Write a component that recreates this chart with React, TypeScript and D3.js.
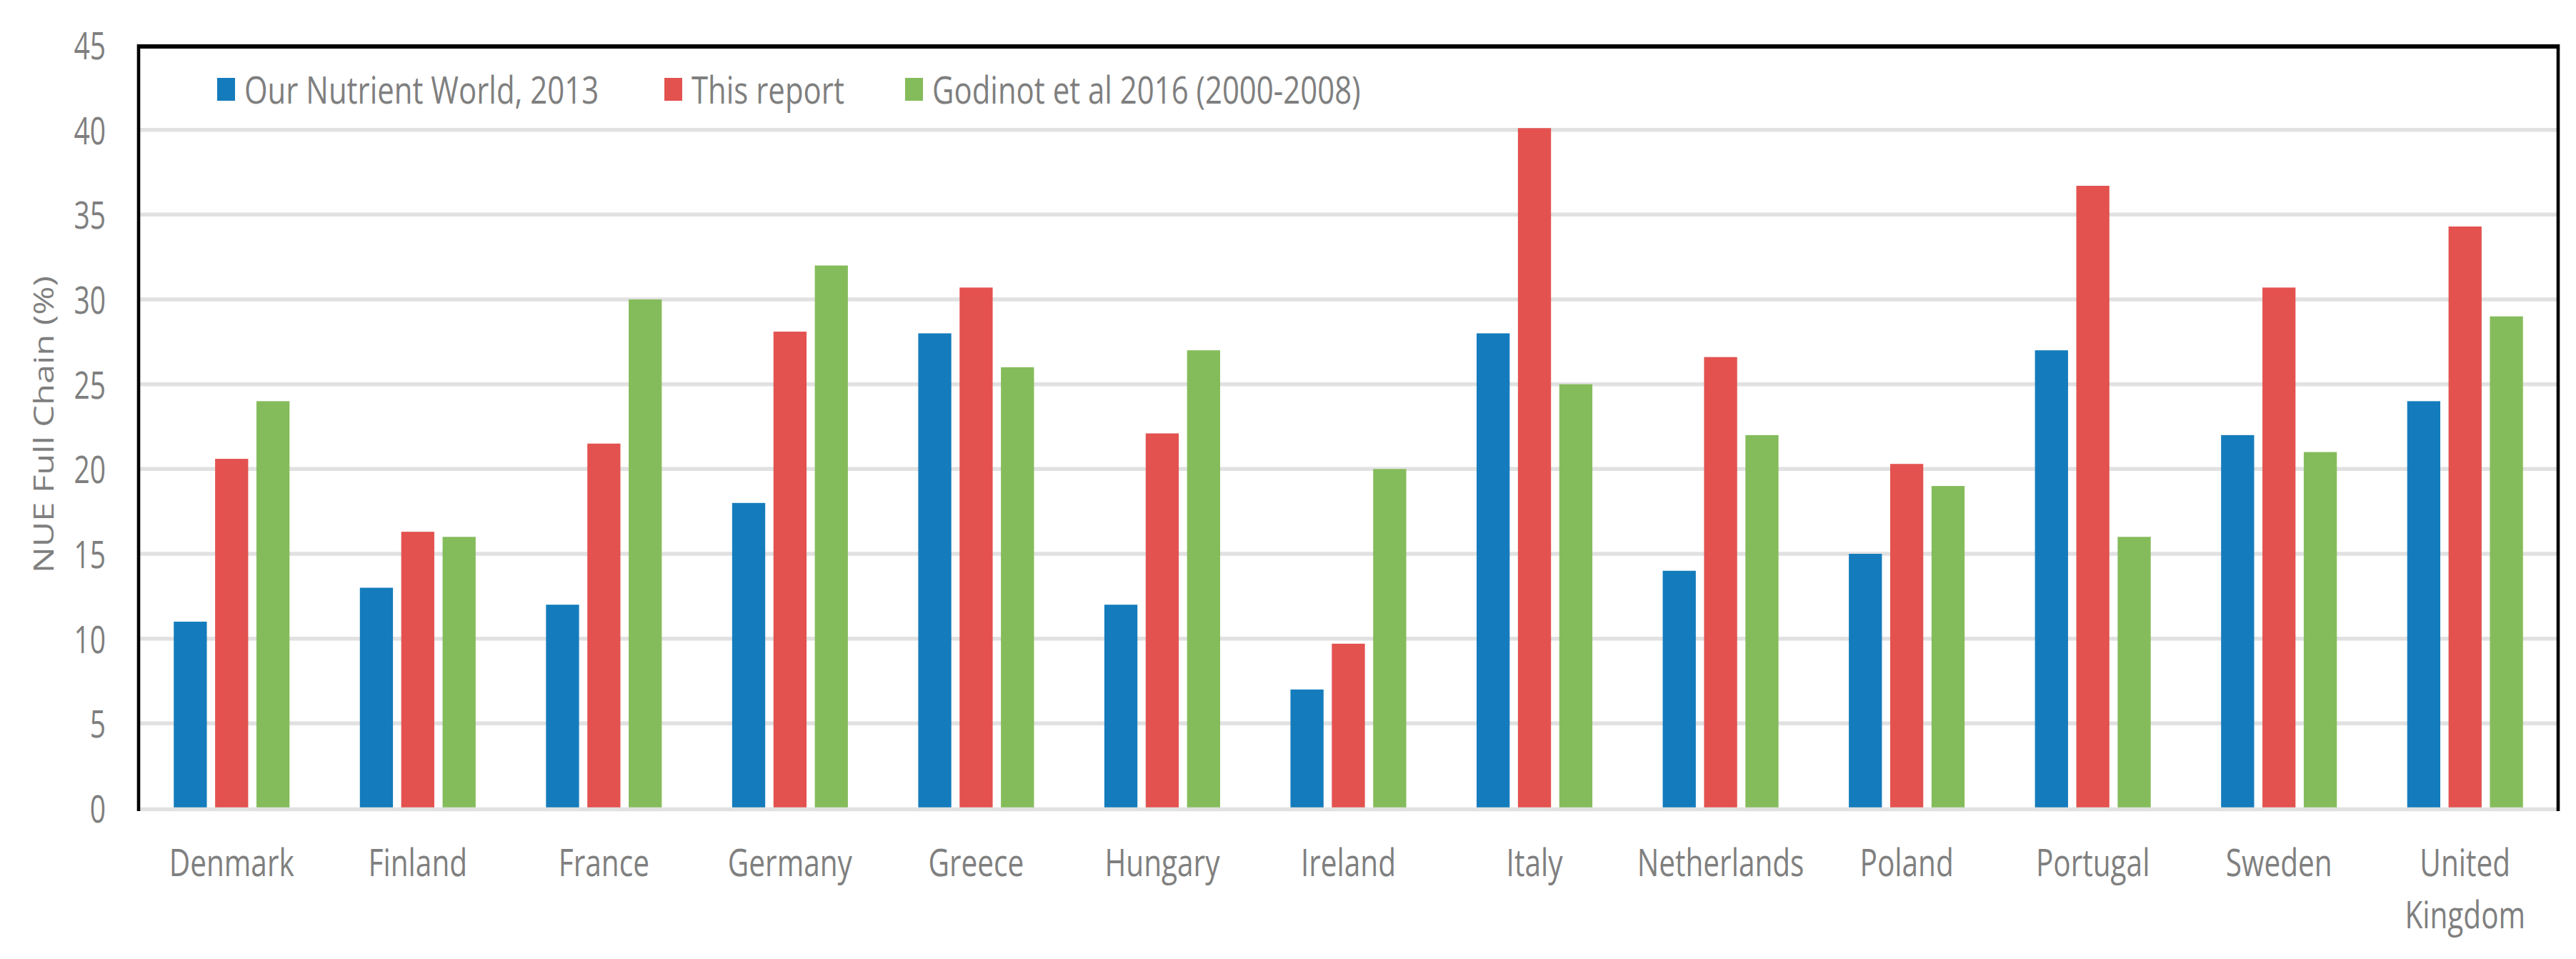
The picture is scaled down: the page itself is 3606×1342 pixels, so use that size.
import React from "react";
import * as d3 from "d3";

const countries = [
  "Denmark", "Finland", "France", "Germany", "Greece", "Hungary", "Ireland",
  "Italy", "Netherlands", "Poland", "Portugal", "Sweden", "United Kingdom",
];
const countryLabelLines = [
  ["Denmark"], ["Finland"], ["France"], ["Germany"], ["Greece"], ["Hungary"], ["Ireland"],
  ["Italy"], ["Netherlands"], ["Poland"], ["Portugal"], ["Sweden"], ["United", "Kingdom"],
];
const seriesNames = ["Our Nutrient World, 2013", "This report", "Godinot et al 2016 (2000-2008)"];
const ourNutrientWorld = [11, 13, 12, 18, 28, 12, 7, 28, 14, 15, 27, 22, 24];
const thisReport = [20.6, 16.3, 21.5, 28.1, 30.7, 22.1, 9.7, 40.1, 26.6, 20.3, 36.7, 30.7, 34.3];
const godinot = [24, 16, 30, 32, 26, 27, 20, 25, 22, 19, 16, 21, 29];
const yTicks = [0, 5, 10, 15, 20, 25, 30, 35, 40, 45];
const yTitle = "NUE Full Chain (%)";

const colors = ["#147cbc", "#e3524f", "#85bc5b"];
const seriesValues = [ourNutrientWorld, thisReport, godinot];

const W = 3606;
const H = 1342;
const L = 194;
const R = 3581;
const T = 63;
const B = 1131;
const SY = 1.36;
const FONT = "'Open Sans', sans-serif";
const FS = 39;
const GRAY = "#7f7f7f";

export default function App() {
  const x0 = d3.scaleBand<string>().domain(countries).range([L, R]).paddingInner(0.378).paddingOuter(0.189);
  const x1 = d3.scaleBand<string>().domain(seriesNames).range([0, x0.bandwidth()]).paddingInner(0.2);
  const y = d3.scaleLinear().domain([0, 45]).range([B, T]);

  const legendX = [304, 930, 1267];

  return (
    <svg width={W} height={H} style={{ position: "absolute", left: 0, top: 0, background: "#fff" }}>
      <rect x={0} y={0} width={W} height={H} fill="#fff" />
      {/* gridlines */}
      {yTicks.filter((t) => t > 0 && t < 45).map((t) => (
        <line key={"g" + t} x1={L} x2={R} y1={y(t)} y2={y(t)} stroke="#e1e1e1" strokeWidth={5.5} />
      ))}
      {/* bars */}
      {countries.map((c, i) => (
        <g key={c} transform={`translate(${x0(c)},0)`}>
          {seriesNames.map((s, k) => (
            <rect
              key={s}
              x={x1(s)}
              y={y(seriesValues[k][i])}
              width={x1.bandwidth()}
              height={B - y(seriesValues[k][i])}
              fill={colors[k]}
            />
          ))}
        </g>
      ))}
      {/* zero axis */}
      <line x1={L} x2={R} y1={y(0) + 1.5} y2={y(0) + 1.5} stroke="#e1e1e1" strokeWidth={5.5} />
      {/* frame */}
      <line x1={L} x2={R} y1={65} y2={65} stroke="#000" strokeWidth={5.8} />
      <line x1={L} x2={L} y1={62} y2={1135} stroke="#000" strokeWidth={4.6} />
      <line x1={R} x2={R} y1={62} y2={1135} stroke="#000" strokeWidth={4.6} />
      {/* y tick labels */}
      {yTicks.map((t) => (
        <text
          key={"t" + t}
          transform={`translate(148,${y(t) + 1 + 19}) scale(1,${SY})`}
          textAnchor="end"
          fontFamily={FONT}
          fontSize={FS}
          fill={GRAY}
        >
          {t}
        </text>
      ))}
      {/* y title */}
      <text
        transform={`translate(75,594) rotate(-90) scale(1.25,1)`}
        textAnchor="middle"
        fontFamily={FONT}
        fontSize={FS}
        fill={GRAY}
      >
        {yTitle}
      </text>
      {/* x labels */}
      {countries.map((c, i) => (
        <g key={"x" + c}>
          {countryLabelLines[i].map((line, j) => (
            <text
              key={line}
              transform={`translate(${(x0(c) as number) + x0.bandwidth() / 2},${1226 + j * 73}) scale(1.04,${SY})`}
              textAnchor="middle"
              fontFamily={FONT}
              fontSize={FS}
              fill={GRAY}
            >
              {line}
            </text>
          ))}
        </g>
      ))}
      {/* legend */}
      {seriesNames.map((s, k) => (
        <g key={"l" + s}>
          <rect x={legendX[k]} y={109} width={25} height={32} fill={colors[k]} />
          <text
            transform={`translate(${legendX[k] + 38},145) scale(1.075,${SY})`}
            fontFamily={FONT}
            fontSize={FS}
            fill={GRAY}
          >
            {s}
          </text>
        </g>
      ))}
    </svg>
  );
}
